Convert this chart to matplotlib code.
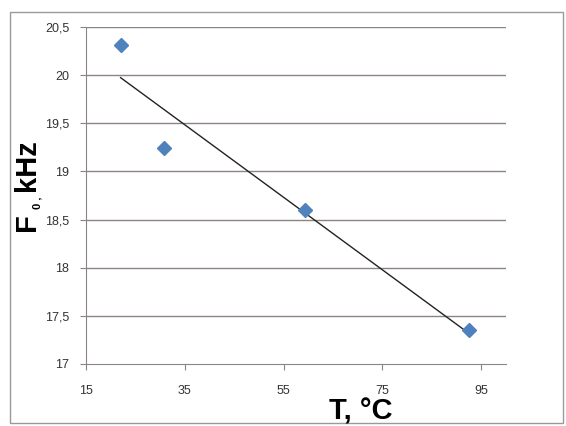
import matplotlib
import numpy as np

matplotlib.use("Agg")
import matplotlib.pyplot as plt  # noqa: E402

temp_c = [22, 30.8, 59.4, 92.5]
f0_khz = [20.31, 19.24, 18.60, 17.35]
x_ticks = [15, 35, 55, 75, 95]
y_ticks = [17, 17.5, 18, 18.5, 19, 19.5, 20, 20.5]

plt.rcParams["font.family"] = ["Liberation Sans", "DejaVu Sans"]

W, H = 566, 426


def px(x, y):
    return x / W, 1 - y / H


fig = plt.figure(figsize=(W / 100, H / 100), dpi=100)
# outer chart border
fig.patches.append(plt.Rectangle((10 / W, 3 / H), 553 / W, 411 / H,
                                 transform=fig.transFigure, fill=False,
                                 edgecolor="#9a9a9a", linewidth=1.0))
ax = fig.add_axes([86 / W, 1 - 364 / H, 420 / W, 337 / H])

grid_c = "#8c8480"
for yv in y_ticks[1:]:
    ax.axhline(yv, color=grid_c, linewidth=1.0, zorder=1)

coef = np.polyfit(temp_c, f0_khz, 1)
xs = np.array([min(temp_c), max(temp_c)])
ax.plot(xs, np.polyval(coef, xs), color="#222222", linewidth=1.0, zorder=2)
ax.plot(temp_c, f0_khz, linestyle="none", marker="D", markersize=7,
        color="#4f81bd", zorder=3)

ax.set_xlim(15, 100)
ax.set_ylim(17, 20.5)
ax.set_xticks(x_ticks)
ax.set_yticks(y_ticks)
ax.set_yticklabels([f"{v:g}".replace(".", ",") for v in y_ticks])
ax.tick_params(axis="both", labelsize=9, colors="#333333", length=4,
               color=grid_c, pad=8)
ax.tick_params(axis="x", pad=11)

for side in ("top", "right"):
    ax.spines[side].set_visible(False)
for side in ("left", "bottom"):
    ax.spines[side].set_color(grid_c)

# axis titles, placed like the reference
fig.text(*px(361, 411), "T, °C", fontsize=21, fontweight="bold",
         ha="center", va="center")
fig.text(*px(27, 165), "kHz", fontsize=21, fontweight="bold", rotation=90,
         ha="center", va="center")
fig.text(*px(27, 222), "F", fontsize=21, fontweight="bold", rotation=90,
         ha="center", va="center")
fig.text(*px(37, 203), "0 ,", fontsize=8, fontweight="bold", rotation=90,
         ha="center", va="center")

fig.savefig("out.png", dpi=100)
